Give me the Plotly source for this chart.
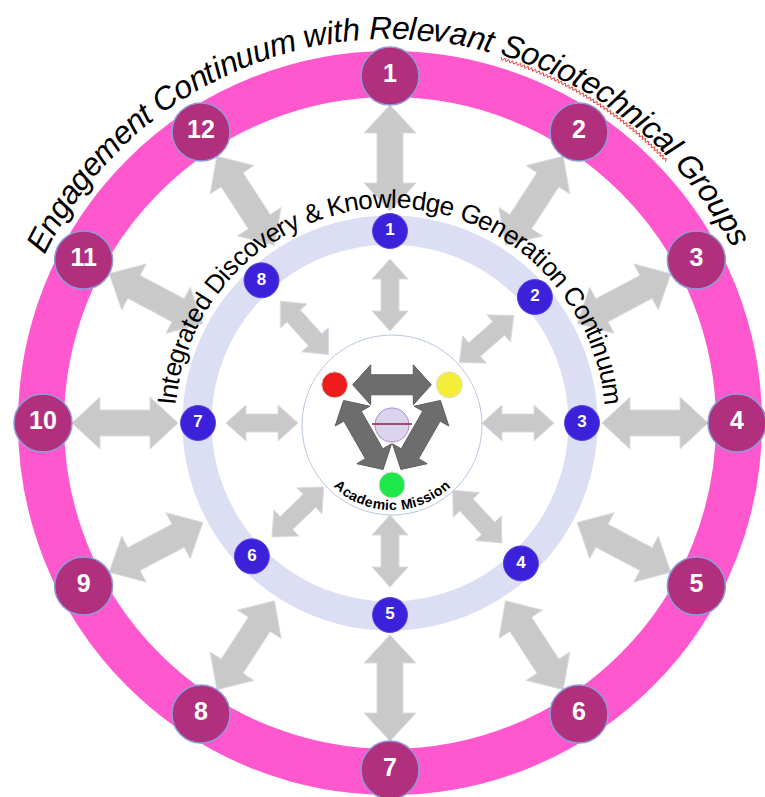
import numpy as np
import plotly.graph_objects as go

W, H = 765, 797
CX, CY = 390, 423          # centre of the two rings
KX, KY = 392, 425          # centre of the core circle

# ---- data ----
outer_labels = [str(i) for i in range(1, 13)]
outer_angles = [0, 33, 62, 90, 118, 147, 180, 213, 242, 270, 298, 327]
inner_labels = [str(i) for i in range(1, 9)]
inner_angles = [0, 49, 90, 137, 180, 226, 270, 318]
core_colors = ['#EE1C1C', '#F4EE3A', '#1FE84A']
core_angles = [-55, 55, 180]
core_radii = [70, 70, 60]

title_text = "Engagement Continuum with Relevant Sociotechnical Groups"
inner_text = "Integrated Discovery & Knowledge Generation Continuum"
core_text = "Academic Mission"

# geometry
R_OUT, R_OUT_RING, OUT_RING_W = 347, 349, 46
R_IN, R_IN_RING, IN_RING_W = 192, 193, 29
R_CORE = 90

PINK = '#FF58CF'
PLUM = '#B1307E'
BLUE = '#3B21D9'
LAV = '#DCDEF4'
ARROW = '#C9C9C9'
DARK = '#6D6D6D'

# Arial advance widths (1/1000 em)
REG = dict(zip("abcdefghijklmnopqrstuvwxyz", [556, 556, 500, 556, 556, 278, 556, 556, 222, 222, 500, 222, 833,
                                              556, 556, 556, 556, 333, 500, 278, 556, 500, 722, 500, 500, 500]))
REG.update({' ': 278, 'E': 667, 'C': 722, 'R': 722, 'S': 667, 'G': 778, 'I': 278, 'D': 722, 'K': 667, '&': 667})
BOLD = {'A': 722, 'c': 556, 'a': 556, 'd': 611, 'e': 556, 'm': 889, 'i': 278, ' ': 278,
        'M': 833, 's': 556, 'o': 611, 'n': 611}


def polar(ang, r, cx=CX, cy=CY):
    a = np.radians(ang)
    return cx + r * np.sin(a), cy - r * np.cos(a)


def arrow_path(p0, p1, sw, hw, hl):
    p0, p1 = np.array(p0, float), np.array(p1, float)
    u = (p1 - p0) / np.linalg.norm(p1 - p0)
    n = np.array([-u[1], u[0]])
    pts = [p0, p0 + u * hl + n * hw, p0 + u * hl + n * sw, p1 - u * hl + n * sw, p1 - u * hl + n * hw,
           p1, p1 - u * hl - n * hw, p1 - u * hl - n * sw, p0 + u * hl - n * sw, p0 + u * hl - n * hw]
    return 'M ' + ' L '.join(f'{x:.1f},{y:.1f}' for x, y in pts) + ' Z'


def char_angles(text, widths, size, r, mid):
    adv = np.array([widths.get(c, 556) for c in text]) * size / 1000.0
    total = adv.sum()
    centers = np.cumsum(adv) - adv / 2 - total / 2
    return mid + np.degrees(centers / r)


shapes = []
annotations = []

# rings
for r, w, col in [(R_OUT_RING, OUT_RING_W, PINK), (R_IN_RING, IN_RING_W, LAV)]:
    shapes.append(dict(type='circle', layer='below', x0=CX - r, x1=CX + r, y0=CY - r, y1=CY + r,
                       line=dict(color=col, width=w), fillcolor='rgba(0,0,0,0)'))

# outer arrows (inner ring -> engagement nodes)
for a in outer_angles:
    shapes.append(dict(type='path', layer='below', path=arrow_path(polar(a, 212), polar(a, 318), 13, 26, 28),
                       fillcolor=ARROW, line=dict(color='#DADAE6', width=1)))
# inner arrows (core -> discovery nodes)
for a in inner_angles:
    shapes.append(dict(type='path', layer='below', path=arrow_path(polar(a, 92), polar(a, 164), 9, 18, 20),
                       fillcolor=ARROW, line=dict(color='#DADAE6', width=1)))

# core circle
shapes.append(dict(type='circle', layer='below', x0=KX - R_CORE, x1=KX + R_CORE, y0=KY - R_CORE, y1=KY + R_CORE,
                   fillcolor='white', line=dict(color='#B9C6E0', width=1)))

# core dots and dark arrows between them
dots = [polar(a, r, KX, KY) for a, r in zip(core_angles, core_radii)]
for i, j in [(0, 1), (0, 2), (1, 2)]:
    p0, p1 = np.array(dots[i]), np.array(dots[j])
    u = (p1 - p0) / np.linalg.norm(p1 - p0)
    shapes.append(dict(type='path', layer='below', path=arrow_path(p0 + u * 18, p1 - u * 18, 10, 20, 18),
                       fillcolor=DARK, line=dict(color='#5E5E5E', width=1)))

# small globe emblem
shapes.append(dict(type='circle', layer='below', x0=KX - 17, x1=KX + 17, y0=KY - 17, y1=KY + 17,
                   fillcolor='#DCD4EE', line=dict(color='#A58CC8', width=1)))
shapes.append(dict(type='line', layer='below', x0=KX - 20, x1=KX + 20, y0=KY - 1, y1=KY - 1,
                   line=dict(color='#8B2040', width=1.5)))

fig = go.Figure()

# engagement nodes
ox, oy = zip(*[polar(a, R_OUT) for a in outer_angles])
fig.add_trace(go.Scatter(x=ox, y=oy, mode='markers+text', text=outer_labels, textposition='middle center',
                         marker=dict(size=58, color=PLUM, line=dict(color='#8E9AD6', width=1.5)),
                         textfont=dict(color='white', size=25, family='Arial', weight='bold'),
                         hoverinfo='skip'))
# discovery nodes
ix, iy = zip(*[polar(a, R_IN) for a in inner_angles])
fig.add_trace(go.Scatter(x=ix, y=iy, mode='markers+text', text=inner_labels, textposition='middle center',
                         marker=dict(size=35, color=BLUE, line=dict(color='#5A48E0', width=1)),
                         textfont=dict(color='white', size=17, family='Arial', weight='bold'),
                         hoverinfo='skip'))
# coloured core dots
dx, dy = zip(*dots)
fig.add_trace(go.Scatter(x=dx, y=dy, mode='markers', hoverinfo='skip',
                         marker=dict(size=26, color=core_colors, line=dict(color='#DDDDDD', width=1))))

# curved titles
TITLE_R, TITLE_SIZE = 395, 32
angs = char_angles(title_text, REG, TITLE_SIZE, TITLE_R, -0.5)
for ch, a in zip(title_text, angs):
    if ch == ' ':
        continue
    x, y = polar(a, TITLE_R)
    annotations.append(dict(x=x, y=y, text=ch, showarrow=False, textangle=a, xanchor='center', yanchor='middle',
                            font=dict(family='Arial', size=TITLE_SIZE, color='black', style='italic')))

# red spell-check squiggle under "Sociotechnical"
k0 = title_text.index('Sociotechnical')
a0 = angs[k0] - 1.2
a1 = angs[k0 + len('Sociotechnical') - 1] + 0.6
ts = np.linspace(a0, a1, int(np.radians(a1 - a0) * 381 / 2))
rs = 381 + 1.5 * np.where(np.arange(len(ts)) % 2 == 0, 1, -1)
sq = np.array([polar(t, r) for t, r in zip(ts, rs)])
fig.add_trace(go.Scatter(x=sq[:, 0], y=sq[:, 1], mode='lines', line=dict(color='#E8413B', width=1),
                         hoverinfo='skip'))

IN_R, IN_SIZE = 224, 26
for ch, a in zip(inner_text, char_angles(inner_text, REG, IN_SIZE, IN_R, 0)):
    if ch == ' ':
        continue
    x, y = polar(a, IN_R)
    annotations.append(dict(x=x, y=y, text=ch, showarrow=False, textangle=a, xanchor='center', yanchor='middle',
                            font=dict(family='Arial', size=IN_SIZE, color='black')))

CORE_R, CORE_SIZE = 80, 14
for ch, a in zip(core_text, char_angles(core_text, BOLD, CORE_SIZE, CORE_R, 0)):
    if ch == ' ':
        continue
    x, y = polar(180 - a, CORE_R, KX, KY)
    annotations.append(dict(x=x, y=y, text=ch, showarrow=False, textangle=-a, xanchor='center', yanchor='middle',
                            font=dict(family='Arial', size=CORE_SIZE, color='black', weight='bold')))

fig.update_layout(
    width=W, height=H,
    margin=dict(l=0, r=0, t=0, b=0),
    paper_bgcolor='white', plot_bgcolor='white',
    showlegend=False,
    shapes=shapes, annotations=annotations,
    xaxis=dict(range=[0, W], visible=False, fixedrange=True),
    yaxis=dict(range=[H, 0], visible=False, fixedrange=True),
)

fig.write_html("out.html", config={'displayModeBar': False},
               post_script="document.body.style.margin='0px';")
